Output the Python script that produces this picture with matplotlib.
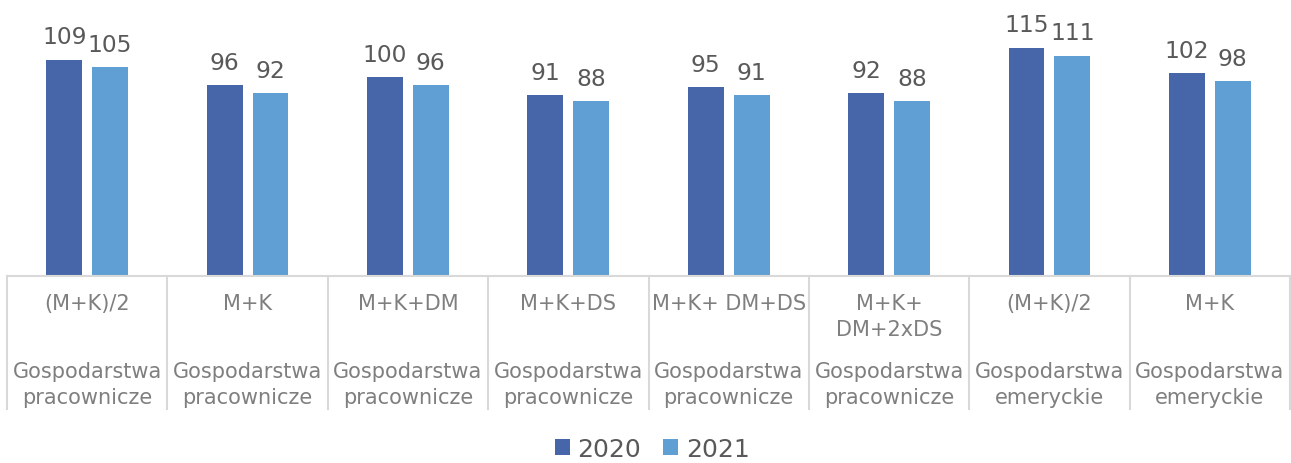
import numpy as np
import matplotlib.pyplot as plt
from matplotlib.transforms import blended_transform_factory

# dane
top_labels = ["(M+K)/2", "M+K", "M+K+DM", "M+K+DS", "M+K+ DM+DS",
              "M+K+\nDM+2xDS", "(M+K)/2", "M+K"]
group_labels = ["Gospodarstwa\npracownicze"] * 6 + ["Gospodarstwa\nemeryckie"] * 2
v2020 = [109, 96, 100, 91, 95, 92, 115, 102]
v2021 = [105, 92, 96, 88, 91, 88, 111, 98]

c2020 = "#4765A9"
c2021 = "#5F9FD3"
grid_c = "#D9D9D9"

W, H = 1291, 464
fig = plt.figure(figsize=(W / 100, H / 100), dpi=100)
y0 = 276.7
ax = fig.add_axes([7 / W, 1 - y0 / H, (1290 - 7) / W, y0 / H])

x = np.arange(len(v2020))
bw = 0.224
off = 0.143
b1 = ax.bar(x - off, v2020, bw, color=c2020, label="2020")
b2 = ax.bar(x + off, v2021, bw, color=c2021, label="2021")

ax.set_xlim(-0.5, len(x) - 0.5)
ax.set_ylim(0, y0 / 1.983)

for bars, vals in [(b1, v2020), (b2, v2021)]:
    for b, v in zip(bars, vals):
        ax.annotate(str(v), (b.get_x() + b.get_width() / 2, v),
                    xytext=(0, 12), textcoords="offset points",
                    ha="center", va="baseline", fontsize=16.8, color="#595959")

for s in ["top", "right", "left"]:
    ax.spines[s].set_visible(False)
ax.spines["bottom"].set_color(grid_c)
ax.spines["bottom"].set_linewidth(1.5)
ax.set_xticks([])
ax.set_yticks([])

# separatory kategorii
tr = blended_transform_factory(ax.transData, fig.transFigure)
for k in range(len(x) + 1):
    xl = k - 0.5
    ax.plot([xl, xl], [1 - y0 / H, 1 - 410 / H], transform=tr, color=grid_c,
            lw=1.5, clip_on=False)

for i in x:
    ax.text(i, 1 - 294 / H, top_labels[i], transform=tr, ha="center", va="top",
            fontsize=15, color="#7F7F7F", linespacing=1.4)
    ax.text(i, 1 - 385 / H, group_labels[i], transform=tr, ha="center", va="center",
            fontsize=15, color="#7F7F7F", linespacing=1.4)

fig.legend(loc="center", bbox_to_anchor=(652 / W, 1 - 450 / H), ncol=2, frameon=False,
           fontsize=18, labelcolor="#595959", handlelength=0.6, handleheight=0.6,
           handletextpad=0.3, columnspacing=0.9)

fig.savefig("out.png", dpi=100)
